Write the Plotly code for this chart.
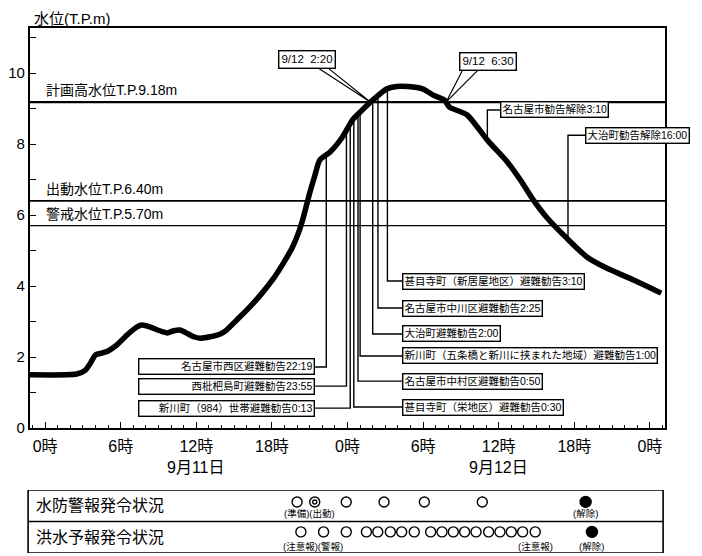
import numpy as np
import plotly.graph_objects as go

# ---------------- data ----------------
# water level: hours from 9/11 0:00, level in T.P. m
hours = [-1.2, 2.5, 3.2, 3.6, 4.0, 4.4, 5.0, 5.7, 6.5, 7.3, 7.7, 8.3, 9.1, 9.7, 10.2, 10.7,
         11.2, 11.8, 12.3, 13.1, 13.9, 14.4, 15.2, 16.0, 17.1, 18.1, 18.9, 19.6, 20.1, 20.5,
         21.0, 21.4, 21.8, 22.6, 23.6, 24.4, 25.0, 26.2, 27.1, 27.9, 28.8, 30.0, 30.8, 31.7,
         32.1, 33.5, 35.1, 36.7, 37.7, 38.7, 39.8, 41.4, 43.0, 44.6, 46.7, 48.9]
levels = [1.5, 1.52, 1.63, 1.83, 2.06, 2.1, 2.17, 2.34, 2.62, 2.85, 2.9, 2.85, 2.74, 2.68, 2.74, 2.76,
          2.68, 2.57, 2.53, 2.57, 2.65, 2.76, 3.04, 3.32, 3.75, 4.2, 4.64, 5.07, 5.49, 5.94,
          6.62, 7.1, 7.55, 7.77, 8.2, 8.68, 8.9, 9.3, 9.55, 9.62, 9.62, 9.55, 9.38, 9.24,
          9.04, 8.82, 8.11, 7.49, 7.0, 6.45, 5.94, 5.35, 4.82, 4.5, 4.17, 3.8]

level_values = [9.18, 6.40, 5.70]
level_labels = ["計画高水位T.P.9.18m", "出動水位T.P.6.40m", "警戒水位T.P.5.70m"]

left_evac_labels = ["名古屋市西区避難勧告22:19", "西枇杷島町避難勧告23:55", "新川町（984）世帯避難勧告0:13"]
left_evac_times = [22 + 19 / 60, 23 + 55 / 60, 24 + 13 / 60]

right_evac_labels = ["甚目寺町（新居屋地区）避難勧告3:10", "名古屋市中川区避難勧告2:25", "大治町避難勧告2:00",
                     "新川町（五条橋と新川に挟まれた地域）避難勧告1:00", "名古屋市中村区避難勧告0:50",
                     "甚目寺町（栄地区）避難勧告0:30"]
right_evac_times = [27 + 10 / 60, 26 + 25 / 60, 26.0, 25.0, 24 + 50 / 60, 24.5]

release_labels = ["名古屋市勧告解除3:10", "大治町勧告解除16:00"]
release_hours = [35.1, 41.5]

callout_labels = ["9/12  2:20", "9/12  6:30"]

tick_hours = [0, 6, 12, 18, 24, 30, 36, 42, 48]
tick_labels = ["0時", "6時", "12時", "18時", "0時", "6時", "12時", "18時", "0時"]
date_labels = ["9月11日", "9月12日"]
date_hours = [12, 36]

row_labels = ["水防警報発令状況", "洪水予報発令状況"]
fight_open = [20.0, 23.9, 26.9, 30.1, 34.7]
fight_double = [21.4]
fight_release = [42.9]
forecast_open = [20.3, 22.1, 23.9, 25.5, 26.4, 27.4, 28.3, 29.3,
                 30.6, 31.5, 32.4, 33.3, 34.2, 35.2, 36.1, 37.0, 37.9, 38.9]
forecast_release = [43.4]
fight_notes = ["(準備)(出動)", "(解除)"]
fight_note_hours = [21.0, 42.9]
forecast_notes = ["(注意報)(警報)", "(注意報)", "(解除)"]
forecast_note_hours = [21.3, 38.9, 43.4]

# ---------------- layout constants ----------------
FONT = "Liberation Sans, Noto Sans CJK JP"
LEFT_BOX_Y = [1.72, 1.18, 0.56]
LEFT_BOX_RIGHT = 21.43
RIGHT_BOX_Y = [4.14, 3.38, 2.65, 2.03, 1.32, 0.59]
RIGHT_BOX_LEFT = 28.33
RELEASE_BOX_Y = [8.96, 8.25]
RELEASE_BOX_LEFT = [36.1, 42.86]
CALLOUT_POS = [(20.8, 10.39), (35.16, 10.32)]
CALLOUT_BASE = [((21.67, 22.46), 10.14), ((33.1, 34.3), 10.06)]

h = np.array(hours)
lv = np.array(levels)
pk = int(np.argmax(lv))


def curve_at(t):
    return float(np.interp(t, h, lv))


def crossing(level, rising):
    rng = range(pk) if rising else range(pk, len(h) - 1)
    for i in rng:
        a, b = lv[i], lv[i + 1]
        if (rising and a < level <= b) or ((not rising) and a >= level > b):
            return float(h[i] + (level - a) / (b - a) * (h[i + 1] - h[i]))
    return float(h[pk])


fig = go.Figure()

# connectors
cx, cy = [], []
for t, yb in zip(left_evac_times, LEFT_BOX_Y):
    cx += [LEFT_BOX_RIGHT, t, t, None]
    cy += [yb, yb, curve_at(t), None]
for t, yb in zip(right_evac_times, RIGHT_BOX_Y):
    cx += [RIGHT_BOX_LEFT, t, t, None]
    cy += [yb, yb, curve_at(t), None]
for t, yb, xl in zip(release_hours, RELEASE_BOX_Y, RELEASE_BOX_LEFT):
    cx += [xl, t, t, None]
    cy += [yb, yb, curve_at(t), None]
fig.add_trace(go.Scatter(x=cx, y=cy, mode="lines", line=dict(color="black", width=1.4),
                         hoverinfo="skip", showlegend=False))

# callout wedges
tips = [crossing(level_values[0], True), crossing(level_values[0], False)]
wx, wy = [], []
for (bx, by), tip in zip(CALLOUT_BASE, tips):
    wx += [bx[0], tip, bx[1], None]
    wy += [by, level_values[0], by, None]
fig.add_trace(go.Scatter(x=wx, y=wy, mode="lines", line=dict(color="black", width=1.2),
                         hoverinfo="skip", showlegend=False))

# water level curve
fig.add_trace(go.Scatter(x=hours, y=levels, mode="lines",
                         line=dict(color="black", width=5.5, shape="spline", smoothing=0.6),
                         hoverinfo="skip", showlegend=False))

# table markers
def mk(xs, y, symbol, size):
    fig.add_trace(go.Scatter(
        x=xs, y=[y] * len(xs), xaxis="x2", yaxis="y2", mode="markers",
        marker=dict(symbol=symbol, size=size, color="black",
                    line=dict(color="black", width=1.4)),
        hoverinfo="skip", showlegend=False))

mk(fight_open, 1.62, "circle-open", 10)
mk(fight_double, 1.62, "circle-open", 10)
mk(fight_double, 1.62, "circle-open", 4)
mk(fight_release, 1.62, "circle", 11)
mk(forecast_open, 0.67, "circle-open", 10)
mk(forecast_release, 0.67, "circle", 11)

shapes = []
lw = [2.2, 1.6, 1.2]
for v, w in zip(level_values, lw):
    shapes.append(dict(type="line", xref="x domain", x0=0, x1=1, yref="y", y0=v, y1=v,
                       line=dict(color="black", width=w)))
# table box
shapes.append(dict(type="rect", xref="paper", x0=-0.003, x1=0.997, yref="y2", y0=0, y1=2,
                   line=dict(color="black", width=1.6)))
shapes.append(dict(type="line", xref="paper", x0=-0.003, x1=0.997, yref="y2", y0=1, y1=1,
                   line=dict(color="black", width=1.6)))

ann = []
for v, t in zip(level_values, level_labels):
    ann.append(dict(xref="paper", x=0.022, yref="y", y=v, yshift=2, text=t, showarrow=False,
                    xanchor="left", yanchor="bottom", font=dict(size=14, family=FONT, color="black")))
box_common = dict(showarrow=False, bordercolor="black", borderwidth=1.4, borderpad=1,
                  bgcolor="white", yanchor="middle", font=dict(size=10.5, family=FONT, color="black"))
for t, yb in zip(left_evac_labels, LEFT_BOX_Y):
    ann.append(dict(x=LEFT_BOX_RIGHT, y=yb, xref="x", yref="y", text=t, xanchor="right",
                    align="right", width=172, **box_common))
for t, yb in zip(right_evac_labels, RIGHT_BOX_Y):
    ann.append(dict(x=RIGHT_BOX_LEFT, y=yb, xref="x", yref="y", text=t, xanchor="left", **box_common))
for t, yb, xl in zip(release_labels, RELEASE_BOX_Y, RELEASE_BOX_LEFT):
    ann.append(dict(x=xl, y=yb, xref="x", yref="y", text=t, xanchor="left", **box_common))
for t, (px, py) in zip(callout_labels, CALLOUT_POS):
    d = dict(box_common)
    d["borderpad"] = 2
    d["font"] = dict(size=11.5, family=FONT, color="black")
    ann.append(dict(x=px, y=py, xref="x", yref="y", text=t.replace(" ", "&nbsp;"),
                    xanchor="center", **d))

for t, hh in zip(date_labels, date_hours):
    ann.append(dict(x=hh, xref="x", y=0.162, yref="paper", text=t, showarrow=False,
                    xanchor="center", yanchor="middle", font=dict(size=16, family=FONT, color="black")))

ann.append(dict(xref="paper", x=0.003, yref="paper", y=1.019, text="水位(T.P.m)", showarrow=False,
                xanchor="left", yanchor="middle", font=dict(size=15, family=FONT, color="black")))

for t, yy in zip(row_labels, [1.5, 0.5]):
    ann.append(dict(xref="paper", x=0.006, yref="y2", y=yy, text=t, showarrow=False,
                    xanchor="left", yanchor="middle", font=dict(size=16, family=FONT, color="black")))
for t, hh in zip(fight_notes, fight_note_hours):
    ann.append(dict(xref="x2", x=hh, yref="y2", y=1.24, text=t, showarrow=False,
                    xanchor="center", yanchor="middle", font=dict(size=9.5, family=FONT, color="black")))
for t, hh in zip(forecast_notes, forecast_note_hours):
    ann.append(dict(xref="x2", x=hh, yref="y2", y=0.2, text=t, showarrow=False,
                    xanchor="center", yanchor="middle", font=dict(size=9.5, family=FONT, color="black")))

# the page body adds an 8px offset; margins compensate so marks land at the intended pixels
fig.update_layout(
    width=702, height=556,
    margin=dict(l=22, r=45, t=20, b=11, autoexpand=False),
    paper_bgcolor="white", plot_bgcolor="white",
    font=dict(family=FONT, color="black"),
    showlegend=False,
    shapes=shapes, annotations=ann,
    xaxis=dict(range=[-1.2, 49.2], anchor="y", domain=[0, 1], automargin=False,
               tickvals=tick_hours, ticktext=tick_labels, ticks="inside", ticklen=6,
               tickwidth=1.2, tickcolor="black", tickfont=dict(size=16, family=FONT),
               ticklabelstandoff=3,
               minor=dict(dtick=1, tick0=0, ticks="inside", ticklen=3, tickwidth=1, tickcolor="black"),
               showline=True, linewidth=2.2, linecolor="black", mirror=True,
               showgrid=False, zeroline=False, fixedrange=True),
    yaxis=dict(range=[0, 11.27], domain=[0.2381, 1], anchor="x", automargin=False,
               tickvals=[0, 2, 4, 6, 8, 10], ticks="inside", ticklen=6, tickwidth=1.2,
               tickcolor="black", tickfont=dict(size=15, family=FONT),
               minor=dict(tickvals=[1, 3, 5, 7, 9, 11], ticks="inside", ticklen=6,
                          tickwidth=1.2, tickcolor="black"),
               showline=True, linewidth=2.2, linecolor="black", mirror=True,
               showgrid=False, zeroline=False, fixedrange=True),
    xaxis2=dict(range=[-1.2, 49.2], anchor="y2", domain=[0, 1], visible=False,
                automargin=False, fixedrange=True),
    yaxis2=dict(range=[0, 2], domain=[0, 0.12], anchor="x2", visible=False,
                automargin=False, fixedrange=True),
)

fig.write_html("out.html")
